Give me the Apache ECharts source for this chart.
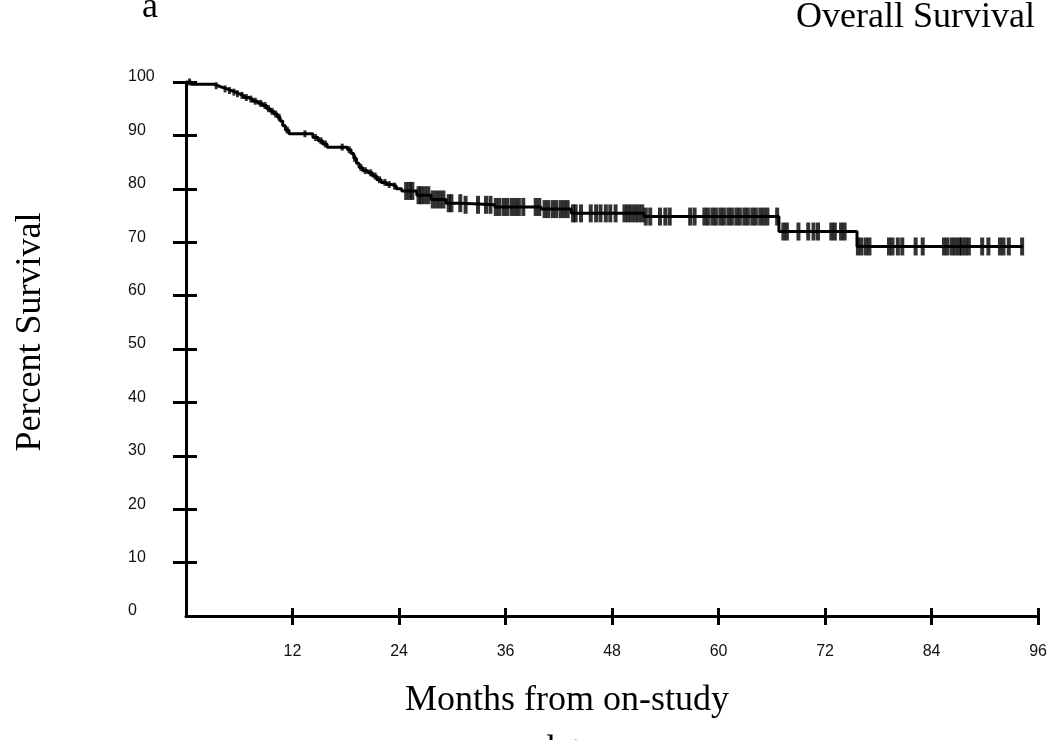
<!DOCTYPE html>
<html>
<head>
<meta charset="utf-8">
<script src="https://cdn.jsdelivr.net/npm/echarts@6/dist/echarts.min.js"></script>
<style>
html,body{margin:0;padding:0;background:#fff;}
#chart{width:1050px;height:740px;}
</style>
</head>
<body>
<div id="chart"></div>
<script>
// Kaplan-Meier step points (month of event, survival % after event)
const stepMonths = [0, 0.6, 3.1, 3.6, 4.1, 4.6, 5.1, 5.6, 6.0, 6.5, 7.0, 7.5, 8.1, 8.6, 9.1, 9.5, 9.9, 10.3, 10.6, 10.9, 11.2, 11.6, 14.3, 14.9, 15.4, 15.9, 18.2, 18.6, 18.9, 19.2, 19.5, 19.9, 20.5, 21.0, 21.5, 22.0, 22.6, 23.2, 23.7, 24.3, 26.0, 27.6, 29.3, 31.0, 34.8, 40.0, 43.4, 51.6, 66.8, 75.6, 94.3];
const stepSurvival = [100, 99.6, 99.3, 99.0, 98.7, 98.4, 98.1, 97.8, 97.5, 97.1, 96.8, 96.4, 96.0, 95.6, 95.0, 94.5, 94.0, 93.4, 92.7, 91.8, 91.0, 90.3, 89.6, 89.0, 88.4, 87.8, 87.3, 86.6, 85.7, 84.8, 84.0, 83.4, 83.0, 82.4, 81.7, 81.2, 80.8, 80.5, 80.0, 79.6, 78.8, 78.0, 77.3, 77.0, 76.6, 76.2, 75.4, 74.8, 72.0, 69.2, 69.2];
// censoring times (months)
const censorEarly = [0.4, 3.4, 4.4, 4.9, 5.4, 5.8, 6.3, 6.8, 7.3, 7.8, 8.4, 8.9, 9.3, 9.7, 10.1, 10.5, 11.4, 13.4, 14.6, 15.2, 15.7, 17.6, 18.4, 19.0, 19.7, 20.2, 20.8, 21.3, 21.8, 22.4, 22.9, 23.5];
const censorLate = [24.8, 25.2, 25.5, 26.2, 26.5, 26.9, 27.3, 27.8, 28.2, 28.6, 29.0, 29.6, 29.9, 30.9, 31.5, 32.9, 33.8, 34.3, 34.9, 35.3, 35.8, 36.2, 36.7, 37.1, 37.5, 38.0, 39.4, 39.8, 40.4, 40.8, 41.3, 41.7, 42.2, 42.6, 43.0, 43.6, 43.9, 44.5, 45.6, 46.2, 46.7, 47.3, 47.8, 48.4, 49.4, 49.8, 50.2, 50.6, 51.0, 51.4, 51.8, 52.3, 53.4, 54.0, 54.5, 56.8, 57.3, 58.4, 58.8, 59.3, 59.7, 60.2, 60.6, 61.1, 61.5, 62.0, 62.4, 62.9, 63.3, 63.8, 64.2, 64.7, 65.1, 65.5, 66.6, 67.3, 67.7, 69.0, 70.1, 70.7, 71.2, 72.7, 73.1, 73.8, 74.2, 75.7, 76.1, 76.6, 77.0, 79.2, 79.6, 80.2, 80.7, 82.2, 83.0, 85.4, 85.8, 86.3, 86.7, 87.1, 87.4, 87.8, 88.2, 89.7, 90.4, 91.7, 92.1, 92.7, 94.2];
const xTicks = [12, 24, 36, 48, 60, 72, 84, 96];
const yTicks = [10, 20, 30, 40, 50, 60, 70, 80, 90, 100];

function survivalAt(t) {
  let s = stepSurvival[0];
  for (let i = 0; i < stepMonths.length; i++) {
    if (stepMonths[i] <= t) s = stepSurvival[i];
  }
  return s;
}
const curveData = stepMonths.map((m, i) => [m, stepSurvival[i]]);
const earlyData = censorEarly.map(t => [t, survivalAt(t)]);
const lateData = censorLate.map(t => [t, survivalAt(t)]);

const chart = echarts.init(document.getElementById('chart'), null, {renderer: 'canvas'});
const serif = '"Liberation Serif", "Times New Roman", serif';
const sans = '"Liberation Sans", Arial, sans-serif';
const axLine = {show: true, lineStyle: {color: '#000', width: 3}};

chart.setOption({
  animation: false,
  backgroundColor: '#fff',
  grid: {left: 186, right: 7, top: 82, bottom: 124, containLabel: false},
  xAxis: [{
    type: 'value', min: 0, max: 96, interval: 12, position: 'bottom',
    axisLine: axLine,
    axisTick: {show: true, inside: false, length: 9, lineStyle: {color: '#000', width: 3}, customValues: xTicks},
    axisLabel: {show: true, margin: 28, fontSize: 16, fontFamily: sans, color: '#111', customValues: xTicks},
    splitLine: {show: false}
  }, {
    type: 'value', min: 0, max: 96, interval: 12, position: 'bottom',
    axisLine: {show: false},
    axisTick: {show: true, inside: true, length: 8, lineStyle: {color: '#000', width: 3}, customValues: xTicks},
    axisLabel: {show: false},
    splitLine: {show: false}
  }],
  yAxis: [{
    type: 'value', min: 0, max: 100, interval: 10, position: 'left',
    axisLine: axLine,
    axisTick: {show: true, inside: false, length: 13, lineStyle: {color: '#000', width: 3}, customValues: yTicks},
    axisLabel: {show: true, margin: 58, align: 'left', verticalAlign: 'bottom', lineHeight: 10, fontSize: 16, fontFamily: sans, color: '#111'},
    splitLine: {show: false}
  }, {
    type: 'value', min: 0, max: 100, interval: 10, position: 'left',
    axisLine: {show: false},
    axisTick: {show: true, inside: true, length: 11, lineStyle: {color: '#000', width: 3}, customValues: yTicks},
    axisLabel: {show: false},
    splitLine: {show: false}
  }],
  series: [{
    type: 'line', data: curveData, step: 'end', symbol: 'none',
    lineStyle: {color: '#000', width: 3}, z: 3
  }, {
    type: 'scatter', data: earlyData, symbol: 'rect', symbolSize: [3, 7],
    itemStyle: {color: '#000'}, z: 4
  }, {
    type: 'scatter', data: lateData, symbol: 'rect', symbolSize: [4, 18],
    itemStyle: {color: '#000'}, z: 4
  }],
  graphic: [
    {type: 'text', x: 150, y: 8, style: {text: 'a', font: '36px ' + serif, fill: '#000', textAlign: 'center', textVerticalAlign: 'middle'}},
    {type: 'text', x: 1035, y: 18, style: {text: 'Overall Survival', font: '36px ' + serif, fill: '#000', textAlign: 'right', textVerticalAlign: 'middle'}},
    {type: 'text', x: 31, y: 332, rotation: Math.PI / 2, style: {text: 'Percent Survival', font: '36px ' + serif, fill: '#000', textAlign: 'center', textVerticalAlign: 'middle'}},
    {type: 'text', x: 567, y: 701, style: {text: 'Months from on-study', font: '36px ' + serif, fill: '#000', textAlign: 'center', textVerticalAlign: 'middle'}},
    {type: 'text', x: 567, y: 751, style: {text: 'date', font: '36px ' + serif, fill: '#000', textAlign: 'center', textVerticalAlign: 'middle'}}
  ]
});
</script>
</body>
</html>
